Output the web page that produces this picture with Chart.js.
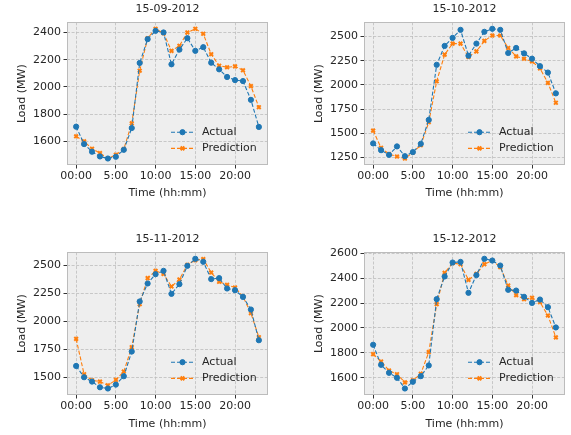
<!DOCTYPE html>
<html>
<head>
<meta charset="utf-8">
<script src="https://cdn.jsdelivr.net/npm/chart.js@4.4.1/dist/chart.umd.min.js"></script>
<style>
    body { margin: 0; background: #ffffff; }
    #wrap { position: relative; width: 571px; height: 435px; }
    #wrap canvas { position: absolute; }
</style>
</head>
<body>
<div id="wrap">
    <canvas id="chartSep" width="264" height="202" style="left:10px;top:0px"></canvas>
    <canvas id="chartOct" width="264" height="202" style="left:307px;top:0px"></canvas>
    <canvas id="chartNov" width="264" height="203" style="left:10px;top:230px"></canvas>
    <canvas id="chartDec" width="264" height="203" style="left:307px;top:230px"></canvas>
</div>
<script>
// Hours of the day (x values)
const hours = [0, 1, 2, 3, 4, 5, 6, 7, 8, 9, 10, 11, 12, 13, 14, 15, 16, 17, 18, 19, 20, 21, 22, 23];
const xTicks = [0, 5, 10, 15, 20];
const xTickLabels = ['00:00', '5:00', '10:00', '15:00', '20:00'];
const seriesNames = ['Actual', 'Prediction'];

// 15-09-2012
const sepActual = [1708, 1580, 1524, 1489, 1474, 1487, 1538, 1698, 2176, 2351, 2412, 2400, 2166, 2274, 2358, 2265, 2292, 2178, 2129, 2073, 2050, 2043, 1905, 1706];
const sepPredicted = [1637, 1600, 1546, 1514, 1474, 1502, 1543, 1733, 2119, 2358, 2427, 2395, 2265, 2302, 2400, 2427, 2390, 2240, 2156, 2144, 2151, 2122, 2006, 1851];
const sepTicks = [1600, 1800, 2000, 2200, 2400];

// 15-10-2012
const octActual = [1396, 1326, 1278, 1365, 1264, 1306, 1392, 1639, 2208, 2403, 2486, 2569, 2302, 2427, 2549, 2580, 2569, 2330, 2382, 2326, 2271, 2194, 2128, 1913];
const octPredicted = [1528, 1351, 1285, 1260, 1240, 1302, 1378, 1615, 2038, 2313, 2427, 2427, 2288, 2347, 2455, 2510, 2510, 2382, 2295, 2271, 2243, 2170, 2021, 1816];
const octTicks = [1250, 1500, 1750, 2000, 2250, 2500];

// 15-11-2012
const novActual = [1601, 1500, 1461, 1410, 1399, 1434, 1509, 1730, 2178, 2339, 2422, 2452, 2246, 2333, 2497, 2560, 2533, 2378, 2387, 2294, 2279, 2219, 2106, 1831];
const novPredicted = [1843, 1527, 1473, 1461, 1428, 1476, 1551, 1769, 2154, 2387, 2452, 2425, 2312, 2375, 2506, 2548, 2557, 2437, 2354, 2327, 2303, 2222, 2073, 1858];
const novTicks = [1500, 1750, 2000, 2250, 2500];

// 15-12-2012
const decActual = [1865, 1704, 1640, 1600, 1514, 1568, 1613, 1699, 2231, 2413, 2525, 2530, 2282, 2424, 2555, 2541, 2501, 2306, 2300, 2250, 2201, 2228, 2167, 2004];
const decPredicted = [1790, 1731, 1659, 1629, 1563, 1579, 1632, 1806, 2191, 2442, 2520, 2512, 2386, 2434, 2512, 2541, 2488, 2341, 2263, 2231, 2242, 2207, 2100, 1924];
const decTicks = [1600, 1800, 2000, 2200, 2400, 2600];

const FONT = 'DejaVu Sans';
const TEXT_COLOR = '#262626';
const BLUE = '#1f77b4';
const ORANGE = '#ff7f0e';

Chart.defaults.font.family = FONT;
Chart.defaults.font.size = 11;
Chart.defaults.color = TEXT_COLOR;

// background, spines, title and the legend inside the axes (like matplotlib)
const axesDecor = {
    id: 'axesDecor',
    beforeDraw(chart) {
        const { ctx, chartArea: a } = chart;
        ctx.save();
        ctx.fillStyle = '#eeeeee';
        ctx.fillRect(a.left, a.top, a.right - a.left, a.bottom - a.top);
        ctx.restore();
    },
    afterDatasetsDraw(chart) {
        const { ctx, chartArea: a } = chart;
        ctx.save();
        ctx.strokeStyle = '#bcbcbc';
        ctx.lineWidth = 1;
        ctx.strokeRect(Math.round(a.left) + 0.5, Math.round(a.top) + 0.5,
            Math.round(a.right - a.left) - 1, Math.round(a.bottom - a.top) - 1);

        // legend, lower right
        chart.data.datasets.forEach((ds, i) => {
            const y = a.bottom - 32.8 + i * 16.2;
            const x1 = a.right - 97;
            const x2 = a.right - 74;
            ctx.strokeStyle = ds.borderColor;
            ctx.fillStyle = ds.borderColor;
            ctx.lineWidth = ds.borderWidth;
            ctx.setLineDash(ds.borderDash);
            ctx.beginPath();
            ctx.moveTo(x1, y);
            ctx.lineTo(x2, y);
            ctx.stroke();
            ctx.setLineDash([]);
            ctx.lineWidth = ds.pointBorderWidth;
            Chart.helpers.drawPoint(ctx, {
                pointStyle: ds.pointStyle,
                radius: ds.pointRadius,
                borderWidth: ds.pointBorderWidth,
                rotation: 0
            }, (x1 + x2) / 2, y);
            ctx.fillStyle = TEXT_COLOR;
            ctx.font = '11px "' + FONT + '"';
            ctx.textAlign = 'left';
            ctx.textBaseline = 'middle';
            ctx.fillText(ds.label, a.right - 66, y);
        });
        ctx.restore();
    },
    afterDraw(chart) {
        const { ctx, chartArea: a } = chart;
        ctx.save();
        ctx.fillStyle = TEXT_COLOR;
        ctx.font = '11px "' + FONT + '"';
        ctx.textAlign = 'center';
        ctx.textBaseline = 'middle';
        ctx.fillText(chart.options.plugins.axesDecor.title, (a.left + a.right) / 2, a.top - 13.5);
        ctx.restore();
    }
};

function makeDataset(label, values, color, style) {
    return {
        label: label,
        data: hours.map((h, i) => ({ x: h, y: values[i] })),
        borderColor: color,
        backgroundColor: color,
        borderWidth: 1.1,
        borderDash: [4, 2],
        pointStyle: style,
        pointRadius: 2.6,
        pointBorderWidth: style === 'circle' ? 1 : 2,
        pointBackgroundColor: color,
        pointBorderColor: color,
        fill: false,
        tension: 0
    };
}

function drawPanel(canvasId, title, actual, predicted, yTicks, topPad) {
    const canvas = document.getElementById(canvasId);
    const ctx = canvas.getContext('2d');

    // matplotlib style limits: 5% margin around the data
    const all = actual.concat(predicted);
    const yMin = Math.min(...all);
    const yMax = Math.max(...all);
    const yPad = (yMax - yMin) * 0.05;
    const xPad = (hours[hours.length - 1] - hours[0]) * 0.05;
    const axisHeight = canvas.height - 165; // plot bottom sits 165px below the canvas top

    const gridOpts = {
        color: '#bdbdbd',
        lineWidth: 0.8,
        drawTicks: true,
        tickLength: 3.5,
        tickColor: '#333333',
        tickWidth: 1,
        tickBorderDash: []
    };

    return new Chart(ctx, {
        type: 'line',
        data: {
            datasets: [
                makeDataset(seriesNames[0], actual, BLUE, 'circle'),
                makeDataset(seriesNames[1], predicted, ORANGE, 'crossRot')
            ]
        },
        plugins: [axesDecor],
        options: {
            responsive: false,
            animation: false,
            layout: { padding: { top: topPad, right: 4, left: 0, bottom: 0 } },
            plugins: {
                legend: { display: false },
                tooltip: { enabled: false },
                axesDecor: { title: title }
            },
            scales: {
                x: {
                    type: 'linear',
                    min: hours[0] - xPad,
                    max: hours[hours.length - 1] + xPad,
                    afterBuildTicks: (s) => { s.ticks = xTicks.map(v => ({ value: v })); },
                    afterFit: (s) => { s.height = axisHeight; },
                    ticks: {
                        autoSkip: false,
                        maxRotation: 0,
                        padding: 1,
                        callback: (v, i) => xTickLabels[i]
                    },
                    grid: gridOpts,
                    border: { display: false, dash: [3, 1.6] },
                    title: { display: true, text: 'Time (hh:mm)', padding: 2.5, font: { size: 11 } }
                },
                y: {
                    type: 'linear',
                    min: yMin - yPad,
                    max: yMax + yPad,
                    afterBuildTicks: (s) => { s.ticks = yTicks.map(v => ({ value: v })); },
                    afterFit: (s) => { s.width = 57; },
                    ticks: {
                        autoSkip: false,
                        padding: 2.5,
                        callback: (v) => String(v)
                    },
                    grid: gridOpts,
                    border: { display: false, dash: [3, 1.6] },
                    title: { display: true, text: 'Load (MW)', padding: 5.5, font: { size: 11 } }
                }
            }
        }
    });
}

document.addEventListener('DOMContentLoaded', () => {
    drawPanel('chartSep', '15-09-2012', sepActual, sepPredicted, sepTicks, 22.3);
    drawPanel('chartOct', '15-10-2012', octActual, octPredicted, octTicks, 22.3);
    drawPanel('chartNov', '15-11-2012', novActual, novPredicted, novTicks, 22.3);
    drawPanel('chartDec', '15-12-2012', decActual, decPredicted, decTicks, 22.3);
});
</script>
</body>
</html>
